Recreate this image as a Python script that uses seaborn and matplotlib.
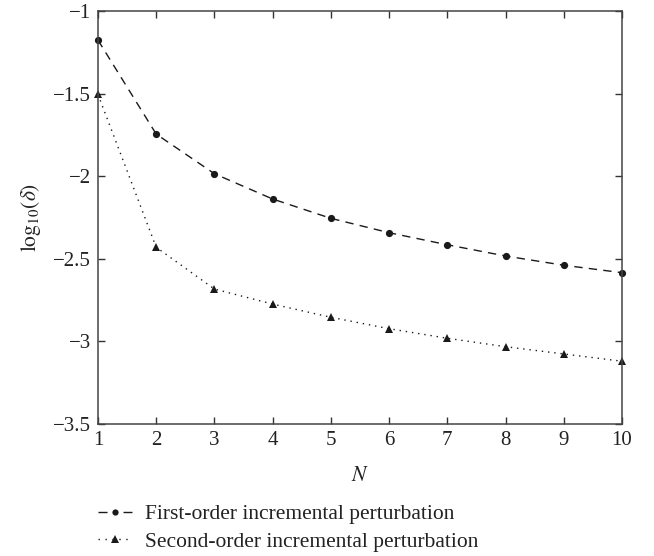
import matplotlib
matplotlib.use("Agg")
import matplotlib.pyplot as plt
import seaborn as sns
import pandas as pd

# Truncation order N and log10 of the error for both schemes
n_terms = [1, 2, 3, 4, 5, 6, 7, 8, 9, 10]
first_order = [-1.176, -1.745, -1.985, -2.138, -2.255, -2.342, -2.415, -2.483, -2.539, -2.584]
second_order = [-1.505, -2.430, -2.683, -2.774, -2.854, -2.923, -2.981, -3.032, -3.076, -3.120]
labels = ["First-order incremental perturbation", "Second-order incremental perturbation"]

df = pd.DataFrame({
    "N": n_terms * 2,
    "err": first_order + second_order,
    "scheme": [labels[0]] * len(n_terms) + [labels[1]] * len(n_terms),
})

sns.set_theme(style="ticks")
plt.rcParams["font.family"] = ["Liberation Serif", "DejaVu Serif"]
plt.rcParams["mathtext.fontset"] = "stix"

fig = plt.figure(figsize=(6.54, 5.56), dpi=100)
ax = fig.add_axes([0.1498, 0.2374, 0.8012, 0.7428])

sns.lineplot(
    data=df, x="N", y="err", hue="scheme", style="scheme",
    palette=["#1a1a1a", "#1a1a1a"],
    dashes={labels[0]: (6, 4.5), labels[1]: (1, 3.5)},
    markers={labels[0]: "o", labels[1]: "^"},
    markersize=5.2, markeredgewidth=0, linewidth=1.0,
    ax=ax, legend=False,
)
for ln in ax.lines:
    ln.set_clip_on(False)

ax.set_xlim(1, 10)
ax.set_ylim(-3.5, -1)
ax.set_xticks(range(1, 11))
ax.set_yticks([-3.5, -3, -2.5, -2, -1.5, -1])
ax.set_yticklabels(["\u22123.5", "\u22123", "\u22122.5", "\u22122", "\u22121.5", "\u22121"])
ax.tick_params(direction="in", length=5, width=1, colors="#333333", labelcolor="#222222",
               labelsize=15, top=True, right=True, pad=5)
for s in ax.spines.values():
    s.set_color("#444444")
    s.set_linewidth(1.1)

ax.set_xlabel("$N$", fontsize=15.5, color="#222222", labelpad=12)
ax.set_ylabel(r"$\mathrm{log}_{10}(\delta)$", fontsize=15.5, color="#222222", labelpad=7)

handles = [
    plt.Line2D([], [], color="#1a1a1a", linestyle=(0, (6.5, 11.5)), marker="o", markersize=4.5,
               markeredgewidth=0, linewidth=1.0),
    plt.Line2D([], [], color="#1a1a1a", linestyle=(0, (1, 4)), marker="^", markersize=5.5,
               markeredgewidth=0, linewidth=1.0),
]
fig.legend(handles, labels, loc="upper left", bbox_to_anchor=(0.150, 0.093),
           frameon=False, fontsize=15.5, handlelength=1.58, handletextpad=0.6,
           labelspacing=0.33, borderpad=0, borderaxespad=0, labelcolor="#222222")

fig.savefig("out.png", dpi=100)
